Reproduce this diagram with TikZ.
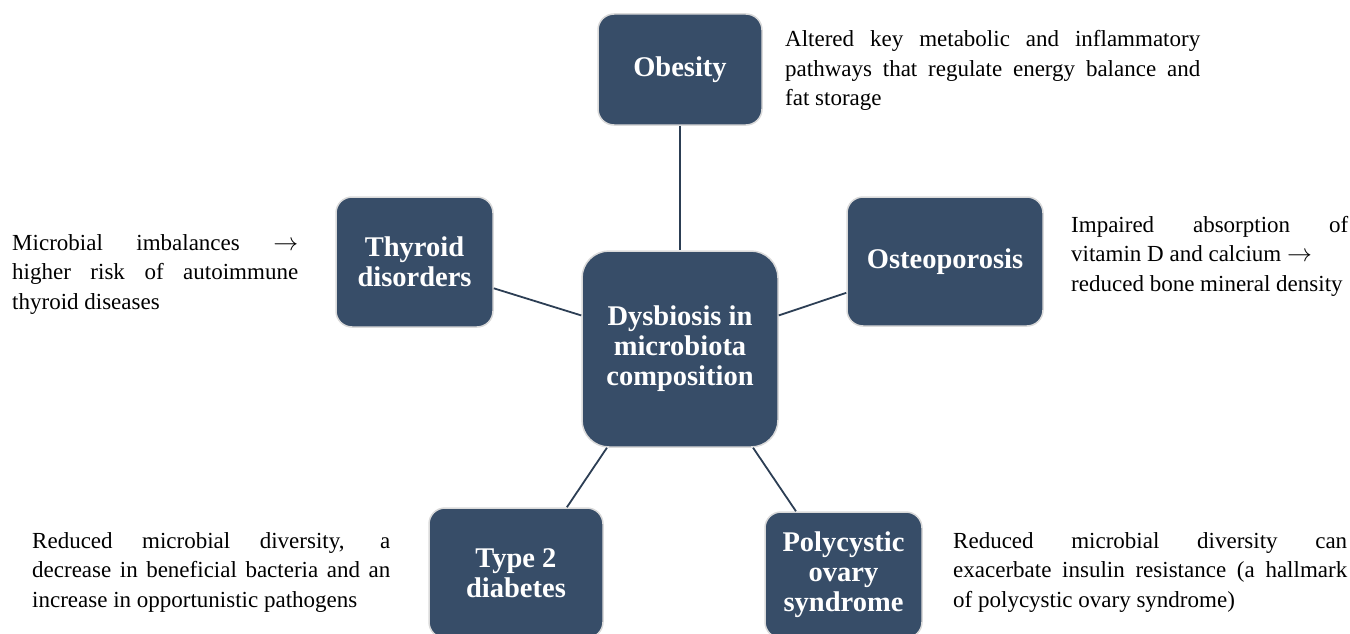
\documentclass[tikz,border=0pt]{standalone}
\usepackage{fontspec}
\setmainfont{Liberation Serif}
\usetikzlibrary{calc}

\definecolor{boxblue}{RGB}{55,77,104}
\definecolor{boxrim}{RGB}{218,218,218}
\definecolor{linkblue}{RGB}{44,62,84}

\tolerance=10000
\hyphenpenalty=10000

\tikzset{
  hub/.style={draw=boxrim, line width=1.5pt, fill=boxblue, rounded corners=27pt,
    text=white, align=center, inner sep=0pt,
    font=\fontsize{28.5}{30}\selectfont\bfseries},
  disease/.style={hub, rounded corners=16pt},
  note/.style={anchor=base west, inner sep=0pt, align=justify,
    font=\fontsize{23}{29.5}\selectfont},
  link/.style={draw=linkblue, line width=1.8pt},
}

\begin{document}
\begin{tikzpicture}[x=1pt, y=-1pt]
        \useasboundingbox (0,0) rectangle (1350,634);

        % Central box
        \node[hub, minimum width=196pt, minimum height=196pt] (dysbiosis) at (680,349)
            {Dysbiosis in\\microbiota\\composition};

        % Conditions
        \node[disease, minimum width=164pt, minimum height=111pt] (obesity) at (680,69.5) {Obesity};
        \node[disease, minimum width=157pt, minimum height=130pt] (thyroid) at (414.5,262) {Thyroid\\disorders};
        \node[disease, minimum width=196pt, minimum height=129pt] (osteo) at (945,261.5) {Osteoporosis};
        \node[disease, minimum width=174pt, minimum height=130pt] (diabetes) at (516,573) {Type 2\\diabetes};
        \node[disease, minimum width=157pt, minimum height=126pt] (pcos) at (843.5,575) {Polycystic\\ovary\\syndrome};

        % Connectors
        \draw[link] (obesity.south) -- (dysbiosis.north);
        \draw[link] ($(thyroid.north east)!0.70!(thyroid.south east)$) -- ($(dysbiosis.north west)!0.33!(dysbiosis.south west)$);
        \draw[link] ($(osteo.north west)!0.74!(osteo.south west)$) -- ($(dysbiosis.north east)!0.33!(dysbiosis.south east)$);
        \draw[link] ($(diabetes.north west)!0.79!(diabetes.north east)$) -- ($(dysbiosis.south west)!0.13!(dysbiosis.south east)$);
        \draw[link] ($(pcos.north west)!0.20!(pcos.north east)$) -- ($(dysbiosis.south west)!0.87!(dysbiosis.south east)$);

        % Notes
        \node[note, text width=415pt] (obesitynote) at (785,47)
            {Altered key metabolic and inflammatory\linebreak pathways that regulate energy balance and\linebreak fat storage};
        \node[note, text width=286pt] (thyroidnote) at (12,250)
            {Microbial imbalances $\rightarrow$\linebreak higher risk of autoimmune\linebreak thyroid diseases};
        \node[note, text width=277pt] (osteonote) at (1071,232)
            {Impaired absorption of\linebreak vitamin D and calcium $\rightarrow$\\ reduced bone mineral density};
        \node[note, text width=358pt] (diabetesnote) at (32,548)
            {Reduced microbial diversity, a\linebreak decrease in beneficial bacteria and an\linebreak increase in opportunistic pathogens};
        \node[note, text width=394pt] (pcosnote) at (953,548)
            {Reduced microbial diversity can\linebreak exacerbate insulin resistance (a hallmark\linebreak of polycystic ovary syndrome)};
    \end{tikzpicture}
\end{document}
